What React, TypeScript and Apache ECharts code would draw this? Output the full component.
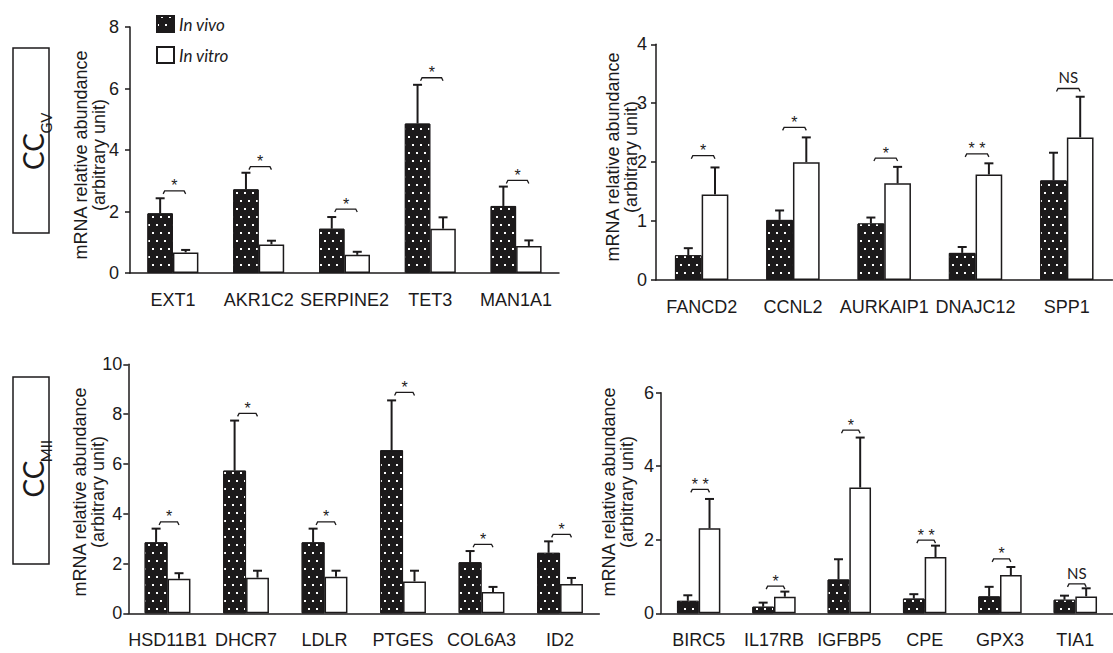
import React, { useEffect, useRef } from 'react';
import * as echarts from 'echarts';

// ---------- DATA ----------
// CC GV, left panel
const gvLeftGenes = ['EXT1', 'AKR1C2', 'SERPINE2', 'TET3', 'MAN1A1'];
const gvLeftVivo = [1.94, 2.72, 1.44, 4.86, 2.18];
const gvLeftVivoSem = [0.49, 0.54, 0.38, 1.26, 0.63];
const gvLeftVitro = [0.67, 0.93, 0.59, 1.44, 0.88];
const gvLeftVitroSem = [0.08, 0.12, 0.1, 0.37, 0.18];
const gvLeftSigLevel = [2.67, 3.46, 2.08, 6.35, 3.01];
const gvLeftSig = ['*', '*', '*', '*', '*'];
const gvLeftTicks = [0, 2, 4, 6, 8];

// CC GV, right panel
const gvRightGenes = ['FANCD2', 'CCNL2', 'AURKAIP1', 'DNAJC12', 'SPP1'];
const gvRightVivo = [0.42, 1.02, 0.96, 0.46, 1.69];
const gvRightVivoSem = [0.12, 0.16, 0.1, 0.1, 0.47];
const gvRightVitro = [1.45, 2.0, 1.64, 1.79, 2.42];
const gvRightVitroSem = [0.46, 0.42, 0.28, 0.19, 0.69];
const gvRightSigLevel = [2.11, 2.59, 2.07, 2.14, 3.25];
const gvRightSig = ['*', '*', '*', '* *', 'NS'];
const gvRightTicks = [0, 1, 2, 3, 4];

// CC MII, left panel
const miiLeftGenes = ['HSD11B1', 'DHCR7', 'LDLR', 'PTGES', 'COL6A3', 'ID2'];
const miiLeftVivo = [2.85, 5.73, 2.85, 6.55, 2.05, 2.43];
const miiLeftVivoSem = [0.55, 2.01, 0.55, 2.0, 0.45, 0.46];
const miiLeftVitro = [1.39, 1.43, 1.47, 1.28, 0.86, 1.18];
const miiLeftVitroSem = [0.22, 0.28, 0.24, 0.43, 0.2, 0.24];
const miiLeftSigLevel = [3.67, 8.03, 3.67, 8.87, 2.77, 3.17];
const miiLeftSig = ['*', '*', '*', '*', '*', '*'];
const miiLeftTicks = [0, 2, 4, 6, 8, 10];

// CC MII, right panel
const miiRightGenes = ['BIRC5', 'IL17RB', 'IGFBP5', 'CPE', 'GPX3', 'TIA1'];
const miiRightVivo = [0.34, 0.18, 0.92, 0.4, 0.46, 0.37];
const miiRightVivoSem = [0.15, 0.11, 0.55, 0.12, 0.26, 0.11];
const miiRightVitro = [2.31, 0.45, 3.42, 1.53, 1.04, 0.46];
const miiRightVitroSem = [0.8, 0.14, 1.36, 0.31, 0.22, 0.22];
const miiRightSigLevel = [3.37, 0.74, 4.98, 1.99, 1.48, 0.8];
const miiRightSig = ['* *', '*', '*', '* *', '*', 'NS'];
const miiRightTicks = [0, 2, 4, 6];

const seriesNames = ['In vivo', 'In vitro'];
const yTitle = 'mRNA relative abundance\n(arbitrary unit)';

// ---------- LAYOUT ----------
const ink = '#1c1a1b';
const ARIAL = "'Liberation Sans', Arial, sans-serif";
const HUM = "Lato, 'Open Sans', sans-serif";

const panels = [
  {
    genes: gvLeftGenes, vivo: gvLeftVivo, vivoSem: gvLeftVivoSem, vitro: gvLeftVitro, vitroSem: gvLeftVitroSem,
    sigLevel: gvLeftSigLevel, sig: gvLeftSig, ticks: gvLeftTicks,
    grid: { left: 130, top: 27, width: 429, height: 246 }, bw: 25.5, labelMargin: 11,
    title: { x: 89.5, y: 155 },
  },
  {
    genes: gvRightGenes, vivo: gvRightVivo, vivoSem: gvRightVivoSem, vitro: gvRightVitro, vitroSem: gvRightVitroSem,
    sigLevel: gvRightSigLevel, sig: gvRightSig, ticks: gvRightTicks,
    grid: { left: 656, top: 44.3, width: 456.5, height: 235.7 }, bw: 26.7, labelMargin: 9,
    title: { x: 622, y: 157 },
  },
  {
    genes: miiLeftGenes, vivo: miiLeftVivo, vivoSem: miiLeftVivoSem, vitro: miiLeftVitro, vitroSem: miiLeftVitroSem,
    sigLevel: miiLeftSigLevel, sig: miiLeftSig, ticks: miiLeftTicks,
    grid: { left: 128.3, top: 364.3, width: 471, height: 249 }, bw: 22.9, labelMargin: 6,
    title: { x: 89, y: 492 },
  },
  {
    genes: miiRightGenes, vivo: miiRightVivo, vivoSem: miiRightVivoSem, vitro: miiRightVitro, vitroSem: miiRightVitroSem,
    sigLevel: miiRightSigLevel, sig: miiRightSig, ticks: miiRightTicks,
    grid: { left: 661, top: 392.7, width: 461, height: 220.6 }, bw: 21.7, labelMargin: 7,
    title: { x: 618, y: 492 },
  },
];

const dotDecal = {
  symbol: 'rect',
  symbolSize: 1,
  color: '#ffffff',
  dashArrayX: [[2, 6], [0, 4, 2, 2]],
  dashArrayY: [2, 5.5],
  rotation: 0,
};

function buildOption() {
  const grid = panels.map((p) => ({ ...p.grid }));
  const xAxis = panels.map((p, i) => ({
    type: 'category',
    gridIndex: i,
    data: p.genes,
    axisLine: { lineStyle: { color: ink, width: 1.5 } },
    axisTick: { length: 6, lineStyle: { color: ink, width: 1.5 } },
    axisLabel: { interval: 0, margin: 18, fontSize: 18, fontFamily: ARIAL, color: ink },
  }));
  const yAxis = panels.map((p, i) => ({
    type: 'value',
    gridIndex: i,
    min: 0,
    max: p.ticks[p.ticks.length - 1],
    interval: p.ticks[1] - p.ticks[0],
    axisLine: { show: true, lineStyle: { color: ink, width: 1.5 } },
    axisTick: { show: true, length: 5, lineStyle: { color: ink, width: 1.5 } },
    splitLine: { show: false },
    axisLabel: { margin: p.labelMargin, fontSize: 18, fontFamily: ARIAL, color: ink },
  }));

  const series: any[] = [];
  panels.forEach((p, i) => {
    series.push({
      type: 'bar', name: seriesNames[0], xAxisIndex: i, yAxisIndex: i, data: p.vivo,
      barWidth: p.bw, barGap: '0%',
      itemStyle: { color: ink, borderColor: ink, borderWidth: 1, decal: dotDecal },
    });
    series.push({
      type: 'bar', name: seriesNames[1], xAxisIndex: i, yAxisIndex: i, data: p.vitro,
      barWidth: p.bw, barGap: '0%',
      itemStyle: { color: '#ffffff', borderColor: ink, borderWidth: 1.5 },
    });
    series.push({
      type: 'custom', name: 'sem' + i, xAxisIndex: i, yAxisIndex: i, z: 5,
      data: p.genes.map((_, k) => [k, p.vivo[k], p.vivoSem[k], p.vitro[k], p.vitroSem[k]]),
      encode: { x: 0, y: [1, 3] },
      renderItem: (params: any, api: any) => {
        const idx = api.value(0);
        const children: any[] = [];
        [[1, 2, -1], [3, 4, 1]].forEach(([m, e, side]) => {
          const mean = api.value(m);
          const sem = api.value(e);
          const a = api.coord([idx, mean]);
          const b = api.coord([idx, mean + sem]);
          const x = a[0] + (side * p.bw) / 2;
          const st = { stroke: ink, lineWidth: 2, fill: null };
          children.push({ type: 'line', shape: { x1: x, y1: a[1], x2: x, y2: b[1] }, style: st });
          children.push({ type: 'line', shape: { x1: x - 4.5, y1: b[1], x2: x + 4.5, y2: b[1] }, style: st });
        });
        return { type: 'group', children };
      },
    });
    series.push({
      type: 'custom', name: 'sig' + i, xAxisIndex: i, yAxisIndex: i, z: 5,
      data: p.sigLevel.map((v, k) => [k, v]),
      encode: { x: 0, y: 1 },
      renderItem: (params: any, api: any) => {
        const idx = api.value(0);
        const c = api.coord([idx, api.value(1)]);
        const x1 = c[0] - p.bw / 2 + 3;
        const x2 = c[0] + p.bw / 2;
        const y = c[1];
        const label = p.sig[params.dataIndex];
        const isNS = label === 'NS';
        return {
          type: 'group',
          children: [
            {
              type: 'polyline',
              shape: { points: [[x1, y + 3], [x1 + 1.5, y], [x2 - 1.5, y], [x2, y + 3]] },
              style: { stroke: ink, lineWidth: 1.3, fill: null },
            },
            {
              type: 'text',
              x: (x1 + x2) / 2,
              y: isNS ? y - 11 : y - 5,
              style: {
                text: label,
                fill: ink,
                fontSize: isNS ? 15 : 16,
                fontFamily: isNS ? HUM : ARIAL,
                align: 'center',
                verticalAlign: 'middle',
                textAlign: 'center',
                textVerticalAlign: 'middle',
              },
            },
          ],
        };
      },
    });
  });

  const graphic: any[] = [];
  panels.forEach((p) => {
    graphic.push({
      type: 'text',
      x: p.title.x,
      y: p.title.y,
      rotation: Math.PI / 2,
      style: {
        text: yTitle,
        fill: ink,
        fontSize: 18,
        lineHeight: 18,
        fontFamily: ARIAL,
        textAlign: 'center',
        textVerticalAlign: 'middle',
        align: 'center',
        verticalAlign: 'middle',
      },
    });
  });
  const boxes = [
    { y: 48, h: 185, sub: 'GV', ccY: 151.5, subY: 123 },
    { y: 377, h: 187, sub: 'MII', ccY: 479, subY: 451 },
  ];
  boxes.forEach((b) => {
    graphic.push({
      type: 'rect',
      shape: { x: 13, y: b.y, width: 36, height: b.h },
      style: { fill: '#fff', stroke: ink, lineWidth: 1.5 },
    });
    graphic.push({
      type: 'text', x: 33, y: b.ccY, rotation: Math.PI / 2,
      style: { text: 'CC', fill: ink, fontSize: 28, fontFamily: HUM, textAlign: 'center', textVerticalAlign: 'middle', align: 'center', verticalAlign: 'middle' },
    });
    graphic.push({
      type: 'text', x: 45.5, y: b.subY, rotation: Math.PI / 2,
      style: { text: b.sub, fill: ink, fontSize: 15, fontFamily: HUM, textAlign: 'center', textVerticalAlign: 'middle', align: 'center', verticalAlign: 'middle' },
    });
  });

  return {
    animation: false,
    backgroundColor: '#ffffff',
    grid,
    xAxis,
    yAxis,
    series,
    graphic,
    legend: {
      data: seriesNames,
      orient: 'vertical',
      left: 151,
      top: 10,
      itemWidth: 17,
      itemHeight: 16,
      itemGap: 13,
      selectedMode: false,
      icon: 'rect',
      textStyle: { fontFamily: HUM, fontStyle: 'italic', fontSize: 17, color: ink },
    },
  };
}

export default function App() {
  const ref = useRef<HTMLDivElement>(null);
  useEffect(() => {
    document.body.style.margin = '0';
    if (!ref.current) return;
    const chart = echarts.init(ref.current, undefined, { renderer: 'svg' });
    chart.setOption(buildOption() as any);
    return () => chart.dispose();
  }, []);
  return <div ref={ref} style={{ width: 1113, height: 653 }} />;
}
